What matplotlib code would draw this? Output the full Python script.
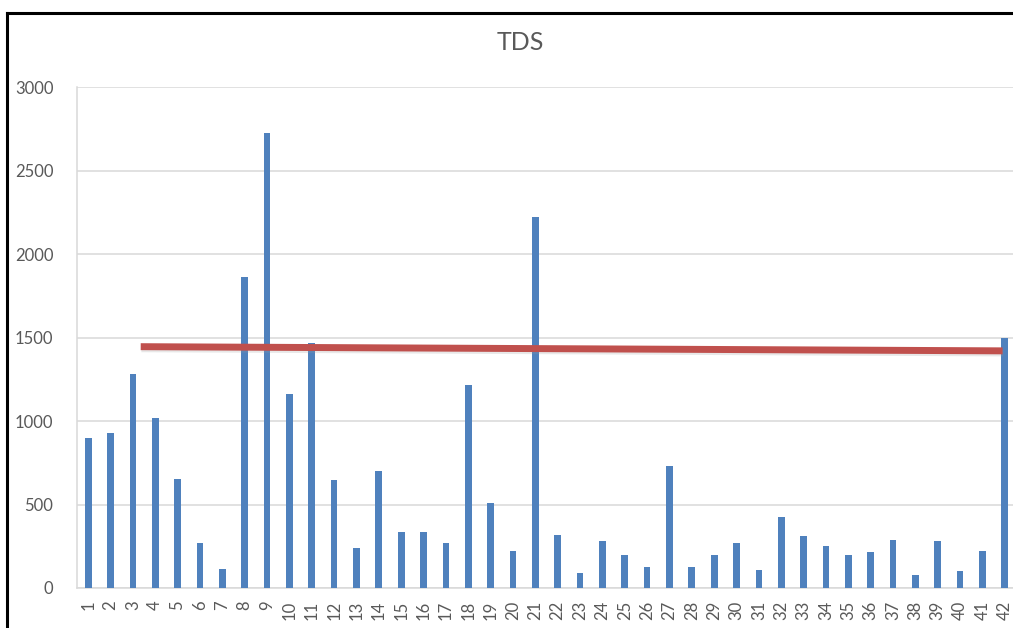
import matplotlib
matplotlib.use("Agg")
import matplotlib.pyplot as plt
import matplotlib.patheffects as pe
from matplotlib.lines import Line2D

# TDS readings per sample point
samples = list(range(1, 43))
tds = [900, 930, 1280, 1015, 650, 270, 115, 1865, 2725, 1160,
       1465, 645, 240, 700, 335, 335, 270, 1215, 510, 220,
       2220, 315, 90, 280, 195, 125, 730, 125, 195, 270,
       110, 425, 310, 250, 195, 215, 290, 80, 280, 100,
       220, 1495]

# Reference limit line (start/end)
limit_x = [3.35, 41.9]
limit_y = [1445, 1420]

y_ticks = [0, 500, 1000, 1500, 2000, 2500, 3000]

BLUE = "#4F81BD"
RED = "#C0504D"
GRID = "#D9D9D9"
TEXT = "#595959"

plt.rcParams["font.family"] = ["Lato", "DejaVu Sans"]

W, H = 1013, 628
fig = plt.figure(figsize=(W / 100, H / 100), dpi=100)
fig.patch.set_facecolor("white")

left_px, right_px, top_px, bottom_px = 77, 1016, 87, 588
ax = fig.add_axes([left_px / W, 1 - bottom_px / H,
                   (right_px - left_px) / W, (bottom_px - top_px) / H])

ax.bar(samples, tds, width=0.3, color=BLUE, zorder=3)

ax.plot(limit_x, limit_y, color=RED, lw=5, solid_capstyle="butt", zorder=4,
        path_effects=[pe.SimpleLineShadow(offset=(0.5, -1.5), shadow_color="#999999", alpha=0.22),
                      pe.Normal()])

ax.set_xlim(0.5, 42.5)
ax.set_ylim(0, 3000)
ax.set_yticks(y_ticks)
ax.set_xticks(samples)
ax.set_xticklabels([str(s) for s in samples], rotation=90)

ax.grid(axis="y", color=GRID, lw=1.1, zorder=0)
ax.set_axisbelow(True)
for side in ("top", "right"):
    ax.spines[side].set_visible(False)
for side in ("left", "bottom"):
    ax.spines[side].set_color(GRID)
    ax.spines[side].set_linewidth(1.1)

ax.tick_params(axis="y", length=0, pad=17, labelsize=12, labelcolor=TEXT)
ax.tick_params(axis="x", length=0, pad=9, labelsize=12, labelcolor=TEXT)

fig.text(0.514, 1 - 43 / H, "TDS", ha="center", va="center",
         fontsize=18, color=TEXT)

# Outer frame (left and top edges)
fig.add_artist(Line2D([6.5 / W, 6.5 / W], [0, 1 - 13 / H], color="black", lw=2.2,
                      transform=fig.transFigure, solid_capstyle="projecting"))
fig.add_artist(Line2D([6.5 / W, 1], [1 - 13 / H, 1 - 13 / H], color="black", lw=2.2,
                      transform=fig.transFigure, solid_capstyle="projecting"))

fig.savefig("out.png", dpi=100)
